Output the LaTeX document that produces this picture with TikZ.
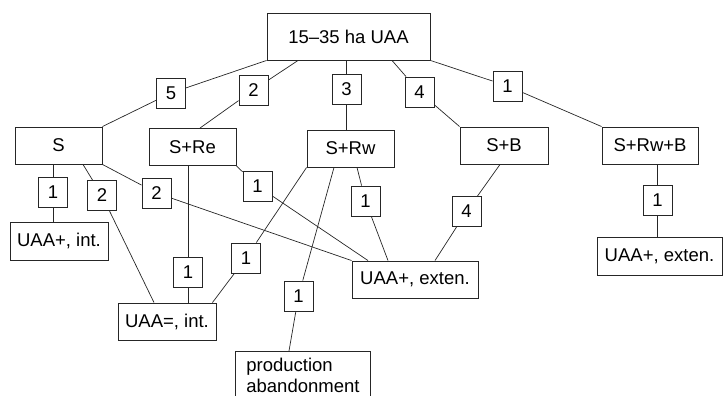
\documentclass[tikz,border=0pt]{standalone}
\usepackage{fontspec}
\setmainfont{Liberation Sans}
\usepackage{tikz}
\tikzset{
    % boxes for the farm types and the outcomes
    box/.style = {rectangle, draw=black!85, line width=0.9pt, minimum height=37pt, inner sep=0pt, text centered, font=\fontsize{18.5}{20.5}\selectfont},
    % small boxes with the counts on the lines
    numbox/.style = {rectangle, draw=black!85, line width=0.9pt, fill=white, minimum width=29pt, minimum height=30pt, inner sep=0pt, font=\fontsize{18.5}{20.5}\selectfont},
    link/.style = {draw=black!85, line width=0.7pt}
}

\begin{document}
\begin{tikzpicture}[x=1pt, y=-1pt]

\useasboundingbox (0,0) rectangle (723,396);
\clip (0,0) rectangle (723,396);

% Nodes
\node[box, minimum width=163pt, minimum height=47pt] (top) at (348.5,36.5) {15--35 ha UAA};

\node[box, minimum width=87pt] (S) at (58.5,145.5) {S};
\node[box, minimum width=87pt] (SRe) at (192.5,147) {S+Re};
\node[box, minimum width=87pt] (SRw) at (350.5,148.5) {S+Rw};
\node[box, minimum width=88pt] (SB) at (504,145.5) {S+B};
\node[box, minimum width=96pt] (SRwB) at (650,145.5) {S+Rw+B};

\node[box, minimum width=98pt, minimum height=38pt] (UAAint) at (59,241) {UAA+, int.};
\node[box, minimum width=98pt] (UAAeq) at (167,321.5) {UAA=, int.};
\node[box, minimum width=126pt] (UAAext) at (415,279.5) {UAA+, exten.};
\node[box, minimum width=125pt, minimum height=38pt] (UAAext2) at (659.5,256) {UAA+, exten.};
\node[box, anchor=north west, minimum width=135pt, inner xsep=10pt, inner ysep=7pt, align=left, text depth=40pt] (prod) at (235,351) {production\\abandonment};

% Count boxes
\node[numbox] (l5) at (171,93) {5};
\node[numbox] (l2a) at (253.5,90) {2};
\node[numbox] (l3) at (346.5,89.5) {3};
\node[numbox] (l4a) at (419.5,92) {4};
\node[numbox] (l1a) at (507.5,86) {1};

\node[numbox] (l1b) at (53,192) {1};
\node[numbox] (l2b) at (102,195.5) {2};
\node[numbox] (l2c) at (156.5,193) {2};
\node[numbox] (l1c) at (257.5,186) {1};
\node[numbox] (l1g) at (365.5,201) {1};
\node[numbox] (l4b) at (466.5,211.5) {4};
\node[numbox] (l1h) at (657.5,200) {1};

\node[numbox] (l1d) at (188,272) {1};
\node[numbox] (l1e) at (246,258) {1};
\node[numbox] (l1f) at (298.5,296) {1};

% Lines
\draw[link] (top.south west) -- (l5) -- (S.north east);
\draw[link] ([xshift=-50.5pt]top.south) -- (l2a) -- ([xshift=7.5pt]SRe.north);
\draw[link] (l3 |- top.south) -- (l3) -- (l3 |- SRw.north);
\draw[link] ([xshift=43.5pt]top.south) -- (l4a) -- (SB.north west);
\draw[link] (top.south east) -- (l1a) -- (SRwB.north west);

\draw[link] (l1b |- S.south) -- (l1b) -- (l1b |- UAAint.north);
\draw[link] ([xshift=24.5pt]S.south) -- (l2b) -- ([xshift=-13pt]UAAeq.north);
\draw[link] (S.south east) -- (l2c) -- (UAAext.north west);
\draw[link] (l1d |- SRe.south) -- (l1d) -- (l1d |- UAAeq.north);
\draw[link] (SRe.south east) -- (l1c) -- ([xshift=-47pt]UAAext.north);
\draw[link] (SRw.south west) -- (l1e) -- ([xshift=-4pt]UAAeq.north east);
\draw[link] ([xshift=-16.5pt]SRw.south) -- (l1f) -- ([xshift=54pt]prod.north west);
\draw[link] ([xshift=6.5pt]SRw.south) -- (l1g) -- ([xshift=-27pt]UAAext.north);
\draw[link] ([xshift=-4pt]SB.south) -- (l4b) -- ([xshift=20pt]UAAext.north);
\draw[link] (l1h |- SRwB.south) -- (l1h) -- (l1h |- UAAext2.north);

\end{tikzpicture}
\end{document}
